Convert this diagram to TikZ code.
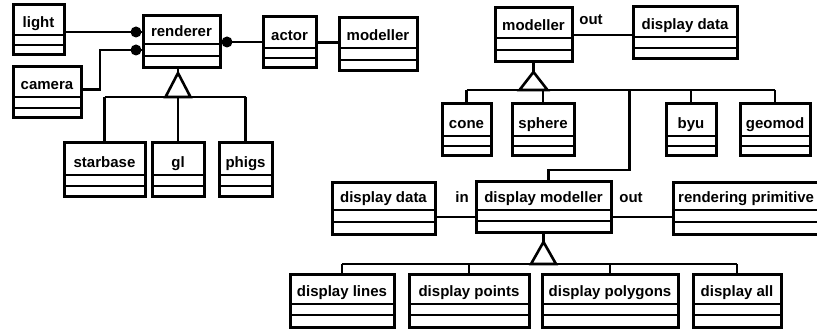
\documentclass[tikz,border=0pt]{standalone}
\usepackage{fontspec}
\setmainfont{Liberation Sans}
\usetikzlibrary{calc}
\tikzset{
  classbox/.style={draw, line width=3pt, rectangle, inner sep=0pt, outer sep=0pt},
  rule/.style={line width=2pt},
  classname/.style={anchor=base, inner sep=0pt, font=\bfseries\fontsize{15}{18}\selectfont},
  role/.style={anchor=base, inner sep=0pt, font=\bfseries\fontsize{15}{18}\selectfont},
  link/.style={line width=2.6pt},
  isa/.style={line width=2.6pt, line join=miter},
}
% class box: name, left, top, right, bottom, header rule, middle rule, label
\newcommand\omtclass[8]{%
  \node[classbox, minimum width={(#4-#2)*1pt}, minimum height={(#5-#3)*1pt}]
    (#1) at ({(#2+#4)/2},{(#3+#5)/2}) {};
  \draw[rule] (#2,#6) -- (#4,#6) (#2,#7) -- (#4,#7);
  \node[classname] (#1-name) at ({(#2+#4)/2},{#6-7.5}) {#8};
}
\begin{document}
\begin{tikzpicture}[x=1pt,y=-1pt]
\useasboundingbox (0,0) rectangle (817,331);
\fill[white] (0,0) rectangle (817,331);
\clip (0,0) rectangle (817,331);

% ---- rendering side
\omtclass{light}{13}{5}{64}{55}{35}{45}{light}
\omtclass{camera}{13}{67}{81}{118}{97}{108}{camera}
\omtclass{renderer}{143}{16}{220}{68}{44}{56}{renderer}
\omtclass{actor}{263}{17}{316}{68}{48}{58}{actor}
\omtclass{modeller}{339}{18}{417}{71}{48}{60}{modeller}
\omtclass{starbase}{64}{143}{145}{197}{175}{186}{starbase}
\omtclass{gl}{152}{143}{204}{197}{175}{186}{gl}
\omtclass{phigs}{219}{143}{272}{197}{175}{186}{phigs}

% aggregation links into the renderer
\coordinate (lport) at ($(renderer.west)+(0,-10)$);
\coordinate (cport) at ($(renderer.west)+(0,8)$);
\draw[link] (light.east |- lport) -- (lport);
\fill ($(lport)+(-7,0)$) circle (5.5pt);
\draw[link] ($(camera.east)+(0,-3)$) -- ++(19,0) |- (cport);
\fill ($(cport)+(-7,0)$) circle (5.5pt);
\draw[link] (renderer.east) -- (renderer.east -| actor.west);
\fill ($(renderer.east)+(7,0)$) circle (5.5pt);
\draw[link] (actor.east) -- (actor.east -| modeller.west);

% renderer specialisations
\draw[link] (renderer.south -| gl.north) -- ++(0,5) coordinate (ra);
\draw[isa] (ra) -- ++(-12.5,24) -- ++(25,0) -- cycle;
\coordinate (rb) at ($(ra)+(0,24)$);
\draw[link] (starbase.north |- rb) -- (phigs.north |- rb);
\foreach \c in {starbase,gl,phigs} \draw[link] (\c.north |- rb) -- (\c.north);

% ---- modelling side
\omtclass{modelr}{495}{8}{572}{62}{38}{50}{modeller}
\omtclass{ddata1}{633}{7}{737}{59}{37}{48}{display data}
\omtclass{cone}{442}{104}{491}{156}{136}{146}{cone}
\omtclass{sphere}{512}{104}{574}{156}{136}{146}{sphere}
\omtclass{byu}{666}{104}{716}{156}{136}{146}{byu}
\omtclass{geomod}{740}{104}{810}{156}{136}{146}{geomod}

\draw[link] (modelr.east) -- (modelr.east -| ddata1.west);
\node[role] (out1) at ($(modelr.east)+(19,-10)$) {out};

\draw[link] (modelr.south) -- ++(0,10) coordinate (ma);
\draw[isa] (ma) -- ++(-14,18) -- ++(28,0) -- cycle;
\coordinate (mb) at ($(ma)+(0,18)$);
\draw[link] (cone.north |- mb) -- (geomod.north |- mb);
\foreach \c in {cone,sphere,byu,geomod} \draw[link] (\c.north |- mb) -- (\c.north);

% ---- display modeller
\omtclass{ddata2}{332}{183}{435}{235}{210}{222}{display data}
\omtclass{dmod}{476}{182}{611}{233}{210}{221}{display modeller}
\node[classbox, minimum width=167pt, minimum height=52pt] (rprim) at (756.5,209) {};
\draw[rule] (673,210) -- (840,210) (673,222) -- (840,222);
\node[classname, anchor=base west] (rprim-name) at (678,202.5) {rendering primitive};

\draw[link] ($(mb)+(96,0)$) |- ($(dmod.north)+(5,-12)$) -- ($(dmod.north)+(5,0)$);

\coordinate (inport) at ($(dmod.west)+(0,9.5)$);
\draw[link] (ddata2.east |- inport) -- (inport);
\node[role] (inlbl) at ($(inport)+(-14,-14)$) {in};
\coordinate (outport) at ($(dmod.east)+(0,9.5)$);
\draw[link] (outport) -- (outport -| rprim.west);
\node[role] (out2) at ($(outport)+(20,-14)$) {out};

\omtclass{dlines}{290}{275}{394}{327}{304}{315}{display lines}
\omtclass{dpoints}{409}{275}{529}{327}{304}{315}{display points}
\omtclass{dpolys}{542}{275}{678}{327}{304}{315}{display polygons}
\omtclass{dall}{693}{275}{781}{327}{304}{315}{display all}

\draw[link] (dmod.south) -- ++(0,9) coordinate (da);
\draw[isa] (da) -- ++(-12.5,22) -- ++(25,0) -- cycle;
\coordinate (db) at ($(da)+(0,22)$);
\draw[link] (dlines.north |- db) -- (dall.north |- db);
\foreach \c in {dlines,dpoints,dpolys,dall} \draw[link] (\c.north |- db) -- (\c.north);
\end{tikzpicture}
\end{document}
